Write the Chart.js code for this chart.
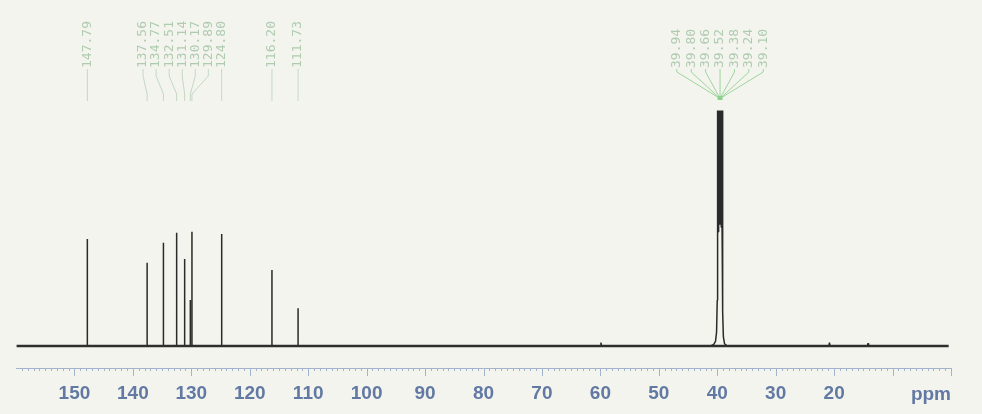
<!DOCTYPE html>
<html>
<head>
<meta charset="utf-8">
<script src="https://cdn.jsdelivr.net/npm/chart.js@4/dist/chart.umd.min.js"></script>
<style>
    html, body { margin: 0; padding: 0; background: #f4f4ef; }
    #wrap { width: 982px; height: 414px; position: relative; }
</style>
</head>
<body>
<div id="wrap"><canvas id="nmr"></canvas></div>
<script>
// 13C NMR peaks (ppm) and heights (arbitrary units, tallest aromatic = 100)
const peakShifts  = [147.79, 137.56, 134.77, 132.51, 131.14, 130.17, 129.89, 124.80, 116.20, 111.73];
const peakHeights = [93.6, 72.9, 90.4, 99.1, 76.1, 40.2, 100, 98, 66.5, 33];

// DMSO-d6 septet profile
const solventShifts  = [41.2, 40.6, 40.3, 40.12, 40.0, 39.94, 39.87, 39.80, 39.73, 39.66, 39.59, 39.52,
                        39.45, 39.38, 39.31, 39.24, 39.17, 39.10, 39.05, 38.95, 38.75, 38.3];
const solventHeights = [0, 1.5, 4, 12, 40, 206, 100, 206, 104, 206, 106, 206,
                        106, 206, 104, 206, 100, 206, 30, 8, 2, 0];

// tiny baseline bumps
const bumpShifts  = [59.9, 20.8, 14.2];
const bumpHeights = [3, 3, 2.5];

// labelled shifts
const peakLabels    = ['147.79', '137.56', '134.77', '132.51', '131.14', '130.17', '129.89', '124.80', '116.20', '111.73'];
const solventLabelShifts = [39.94, 39.80, 39.66, 39.52, 39.38, 39.24, 39.10];
const solventLabels = ['39.94', '39.80', '39.66', '39.52', '39.38', '39.24', '39.10'];

const tickLabels = [150, 140, 130, 120, 110, 100, 90, 80, 70, 60, 50, 40, 30, 20];
const ppmMin = 0, ppmMax = 160;

// build the spectrum trace (descending ppm)
function buildTrace() {
    const pts = [];
    peakShifts.forEach((p, i) => {
        pts.push({ x: p, y: 0 }, { x: p, y: peakHeights[i] }, { x: p, y: 0 });
    });
    bumpShifts.forEach((p, i) => {
        pts.push({ x: p + 0.1, y: 0 }, { x: p, y: bumpHeights[i] }, { x: p - 0.1, y: 0 });
    });
    solventShifts.forEach((p, i) => pts.push({ x: p, y: solventHeights[i] }));
    pts.sort((a, b) => b.x - a.x);
    return pts;
}

// spread label positions so neighbours keep a minimum gap
function spreadLabels(xs, gap) {
    let groups = xs.map(x => ({ t: [x] }));
    const start = g => g.t.reduce((s, v) => s + v, 0) / g.t.length - (g.t.length - 1) * gap / 2;
    let merged = true;
    while (merged) {
        merged = false;
        for (let i = 0; i < groups.length - 1; i++) {
            const a = groups[i], b = groups[i + 1];
            if (start(a) + a.t.length * gap > start(b)) {
                groups.splice(i, 2, { t: a.t.concat(b.t) });
                merged = true;
                break;
            }
        }
    }
    const out = [];
    groups.forEach(g => {
        const s = start(g);
        g.t.forEach((_, k) => out.push(s + k * gap));
    });
    return out;
}

function drawLabels(c, xs, shifts, labels, gap, o) {
    const peakPx = shifts.map(s => xs.getPixelForValue(s));
    const labelPx = spreadLabels(peakPx, gap);
    c.save();
    c.font = "13px 'DejaVu Sans Mono', monospace";
    c.textAlign = 'left';
    c.textBaseline = 'middle';
    labels.forEach((txt, i) => {
        const lx = labelPx[i], px = peakPx[i];
        c.save();
        c.translate(lx, o.textY);
        c.rotate(-Math.PI / 2);
        c.fillStyle = '#b0ccb0';
        c.fillText(txt, 0, 0);
        c.restore();

        c.strokeStyle = o.line;
        c.lineWidth = 1;
        c.beginPath();
        c.moveTo(lx, o.textY + 1);
        c.lineTo(lx, o.y1);
        c.lineTo(px, o.y2);
        c.lineTo(px, o.y3);
        c.stroke();
    });
    if (o.dot) {
        const mid = peakPx.reduce((s, v) => s + v, 0) / peakPx.length;
        c.fillStyle = '#8fd08f';
        c.fillRect(mid - 2.5, o.y2 - 1, 5, 4);
    }
    c.restore();
}

const annotatePlugin = {
    id: 'annotate',
    beforeDraw(chart) {
        const c = chart.ctx;
        c.save();
        c.fillStyle = '#f4f4ef';
        c.fillRect(0, 0, chart.width, chart.height);
        c.restore();
    },
    afterDraw(chart) {
        const c = chart.ctx;
        const xs = chart.scales.x;
        const axisY = chart.chartArea.bottom;

        // axis line with 1 ppm minor and 10 ppm major ticks
        c.save();
        c.strokeStyle = '#a3b2cd';
        c.lineWidth = 1;
        c.beginPath();
        c.moveTo(xs.getPixelForValue(ppmMax), axisY + 0.5);
        c.lineTo(xs.getPixelForValue(ppmMin), axisY + 0.5);
        for (let v = ppmMin; v < ppmMax; v++) {
            const px = Math.round(xs.getPixelForValue(v)) + 0.5;
            const len = v % 10 === 0 ? 8 : 3;
            c.moveTo(px, axisY);
            c.lineTo(px, axisY + len);
        }
        c.stroke();

        c.fillStyle = '#6279a3';
        c.font = "bold 19px 'Liberation Sans', Arial, sans-serif";
        c.textAlign = 'right';
        c.textBaseline = 'middle';
        c.fillText('ppm', xs.getPixelForValue(ppmMin), 395);
        c.restore();

        drawLabels(c, xs, peakShifts, peakLabels, 13.05, {
            textY: 68, y1: 76, y2: 94, y3: 101, line: '#c3d8c3'
        });
        drawLabels(c, xs, solventLabelShifts, solventLabels, 14.4, {
            textY: 68, y1: 72, y2: 97, y3: 97, line: '#9cd69c', dot: true
        });
    }
};

new Chart(document.getElementById('nmr'), {
    type: 'scatter',
    data: {
        datasets: [{
            label: 'baseline',
            data: [{ x: 159.9, y: 0 }, { x: 0.4, y: 0 }],
            showLine: true,
            borderColor: '#2e2e2e',
            borderWidth: 2.4,
            pointRadius: 0
        }, {
            label: 'spectrum',
            data: buildTrace(),
            showLine: true,
            borderColor: '#2a2a2a',
            borderWidth: 1.5,
            borderJoinStyle: 'bevel',
            pointRadius: 0,
            tension: 0
        }]
    },
    options: {
        responsive: true,
        maintainAspectRatio: false,
        animation: false,
        events: [],
        layout: { padding: { left: 16, right: 31, top: 0, bottom: 2 } },
        plugins: {
            legend: { display: false },
            tooltip: { enabled: false }
        },
        scales: {
            x: {
                type: 'linear',
                min: ppmMin,
                max: ppmMax,
                reverse: true,
                grid: { display: false, drawTicks: false },
                border: { display: false },
                afterFit: (s) => { s.height = 44; },
                ticks: {
                    stepSize: 10,
                    padding: 14,
                    maxRotation: 0,
                    autoSkip: false,
                    color: '#6279a3',
                    font: { size: 19, weight: 'bold', family: "'Liberation Sans', Arial, sans-serif" },
                    callback: (v) => tickLabels.includes(v) ? String(v) : ''
                }
            },
            y: {
                display: false,
                min: -19.2,
                max: 302.7
            }
        }
    },
    plugins: [annotatePlugin]
});
</script>
</body>
</html>
